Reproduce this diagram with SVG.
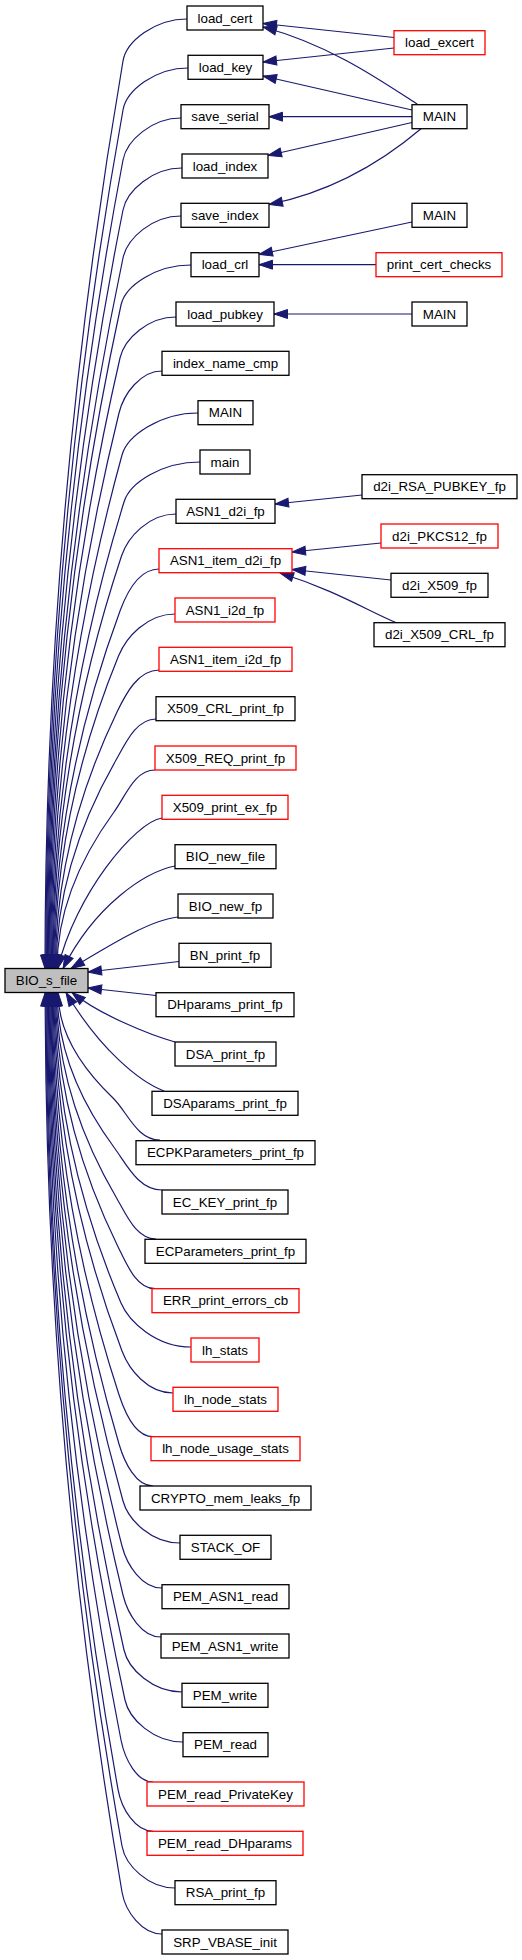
<svg xmlns="http://www.w3.org/2000/svg" width="522" height="1960" viewBox="0 0 522 1960">
<style>
.n rect{fill:#fff;stroke:#000;stroke-width:1.3}
.n.r rect{stroke:#ff0000}
.n.g rect{fill:#bfbfbf}
.n text{font-family:"Liberation Sans",Arial,sans-serif;font-size:13.33px;fill:#000;text-anchor:middle}
#edges path{fill:none;stroke:#191970;stroke-width:1.2;marker-end:url(#ah)}
</style>
<defs>
<marker id="ah" markerUnits="userSpaceOnUse" markerWidth="14" markerHeight="10" refX="13.5" refY="5" orient="auto" overflow="visible"><path d="M0,0.5 L13.5,5 L0,9.5 z" fill="#191970" stroke="#191970" stroke-width="1"/></marker>
</defs>
<rect width="522" height="1960" fill="#fff"/>
<g id="edges">
<path d="M394,37.5 L263,23.5"/>
<path d="M418,104.7 C380,80 330,45 263,27"/>
<path d="M394,48 L263,62"/>
<path d="M412,110 L263,76"/>
<path d="M412,116.7 L269,116.7"/>
<path d="M412,122.5 L268,155.5"/>
<path d="M421,128.7 C390,155 340,190 269,204.5"/>
<path d="M412,222 L259,254.5"/>
<path d="M376,264.7 L259,264.7"/>
<path d="M412,314 L274,314"/>
<path d="M362,495 L275,504"/>
<path d="M381,543 L292,552"/>
<path d="M391,580 L292,569.5"/>
<path d="M397,623 C370,612 335,590 280,573"/>
<path d="M187,19 C155,19 126.4,41.3 123,61 Q45,514.8 45,968.5"/>
<path d="M188,68 C155.5,68 126.5,90.3 123,110 Q45.8,539.3 45.8,968.5"/>
<path d="M181,118 C152,118 126.7,140.3 123,160 Q46.6,564.3 46.6,968.5"/>
<path d="M182,168 C152.5,168 126.9,190.4 123,210 Q47.4,589.3 47.4,968.5"/>
<path d="M181,216 C152,216 127.1,238.4 123,258 Q48.2,613.3 48.2,968.5"/>
<path d="M191,265 C156,265 125.2,285.5 121,305 Q49,636.8 49,968.5"/>
<path d="M176,317 C148,317 124.5,338.5 120,358 Q49.8,663.3 49.8,968.5"/>
<path d="M162,371 C140.5,371 123.8,393.6 119,413 Q50.6,690.8 50.6,968.5"/>
<path d="M198,413 C160,413 127.3,435.7 122,455 Q51.4,711.8 51.4,968.5"/>
<path d="M200,462 C162,462 129.9,482.9 124,502 Q52.2,735.3 52.2,968.5"/>
<path d="M176,514 C148.8,514 127.8,537 121.5,556 Q53,762.3 53,968.5"/>
<path d="M159,569 C139.5,569 126.9,592.2 120,611 Q53.8,789.8 53.8,968.5"/>
<path d="M175,614 C146.8,614 126.1,637.5 118.5,656 Q54.6,812.3 54.6,968.5"/>
<path d="M159,670 C138,670 125.7,694 117,712 Q55.4,840.3 55.4,968.5"/>
<path d="M156,719 C135.8,719 125.4,743.6 115.5,761 Q56.2,864.8 56.2,968.5"/>
<path d="M155,770 C134.5,770 125.8,795.8 114,812 Q57,890.3 57,968.5"/>
<path d="M162,818 C135,822 75,895 57.8,968.5"/>
<path d="M175,866 C145,872 95,905 63,968.5"/>
<path d="M178,917 C150,920 110,945 71,968.5"/>
<path d="M179,961.5 L88,972"/>
<path d="M156,995.5 L88,988"/>
<path d="M175,1042 C150,1035 100,1015 72,992.5"/>
<path d="M164,1091 C140,1082 100,1050 66,992.5"/>
<path d="M160,1140 C136.5,1140 127.4,1111.8 113,1098 Q58,1045.3 58,992.5"/>
<path d="M162,1190 C138.3,1190 126.4,1164.1 114.5,1148 Q57.2,1070.3 57.2,992.5"/>
<path d="M156,1239 C136,1239 126.1,1214.3 116,1197 Q56.4,1094.8 56.4,992.5"/>
<path d="M155,1288.7 C136.5,1288.7 126.8,1264.7 118,1246.7 Q55.6,1119.6 55.6,992.5"/>
<path d="M191,1347 C156,1347 128.8,1321.4 121,1303 Q54.8,1147.8 54.8,992.5"/>
<path d="M173,1393 C147.5,1393 129.1,1369.7 122,1351 Q54,1171.8 54,992.5"/>
<path d="M153,1436.7 C136,1436.7 125.2,1413.7 119,1394.7 Q53.2,1193.6 53.2,992.5"/>
<path d="M153,1486 C136,1486 124.7,1463.2 119,1444 Q52.4,1218.3 52.4,992.5"/>
<path d="M180,1543 C151.5,1543 128.4,1520.3 123,1501 Q51.6,1246.8 51.6,992.5"/>
<path d="M162,1588 C142,1588 127,1565.4 122,1546 Q50.8,1269.3 50.8,992.5"/>
<path d="M161,1637 C142,1637 127.7,1614.4 123,1595 Q50,1293.8 50,992.5"/>
<path d="M182,1692 C153,1692 128.4,1669.5 124,1650 Q49.2,1321.3 49.2,992.5"/>
<path d="M183,1742 C154,1742 129.2,1719.6 125,1700 Q48.4,1346.3 48.4,992.5"/>
<path d="M153,1782 C137,1782 124.9,1759.6 121,1740 Q47.6,1366.3 47.6,992.5"/>
<path d="M153,1831.3 C135.5,1831.3 121.5,1809 118,1789.3 Q46.8,1390.9 46.8,992.5"/>
<path d="M175,1888 C148.5,1888 125.5,1865.7 122,1846 Q46,1419.3 46,992.5"/>
<path d="M162,1934 C142,1934 125.4,1911.7 122,1892 Q45.2,1442.3 45.2,992.5"/>
</g>
<g id="BIO_s_file" class="n g"><rect x="5" y="968.5" width="83" height="24"/><text x="46.5" y="985">BIO_s_file</text></g>
<g id="load_cert" class="n"><rect x="187" y="6" width="76" height="24"/><text x="225" y="22.5">load_cert</text></g>
<g id="load_key" class="n"><rect x="188" y="55.3" width="75" height="24"/><text x="225.5" y="71.8">load_key</text></g>
<g id="save_serial" class="n"><rect x="181" y="104.7" width="88" height="24"/><text x="225" y="121.2">save_serial</text></g>
<g id="load_index" class="n"><rect x="182" y="154" width="86" height="24"/><text x="225" y="170.5">load_index</text></g>
<g id="save_index" class="n"><rect x="181" y="203.3" width="88" height="24"/><text x="225" y="219.8">save_index</text></g>
<g id="load_crl" class="n"><rect x="191" y="252.7" width="68" height="24"/><text x="225" y="269.2">load_crl</text></g>
<g id="load_pubkey" class="n"><rect x="176" y="302" width="98" height="24"/><text x="225" y="318.5">load_pubkey</text></g>
<g id="index_name_cmp" class="n"><rect x="162" y="351.3" width="127" height="24"/><text x="225.5" y="367.8">index_name_cmp</text></g>
<g id="MAIN_1" class="n"><rect x="198" y="400.7" width="55" height="24"/><text x="225.5" y="417.2">MAIN</text></g>
<g id="main" class="n"><rect x="200" y="450" width="50" height="24"/><text x="225" y="466.5">main</text></g>
<g id="ASN1_d2i_fp" class="n"><rect x="176" y="499.3" width="99" height="24"/><text x="225.5" y="515.8">ASN1_d2i_fp</text></g>
<g id="ASN1_item_d2i_fp" class="n r"><rect x="159" y="548.7" width="133" height="24"/><text x="225.5" y="565.2">ASN1_item_d2i_fp</text></g>
<g id="ASN1_i2d_fp" class="n r"><rect x="175" y="598" width="100" height="24"/><text x="225" y="614.5">ASN1_i2d_fp</text></g>
<g id="ASN1_item_i2d_fp" class="n r"><rect x="159" y="647.3" width="133" height="24"/><text x="225.5" y="663.8">ASN1_item_i2d_fp</text></g>
<g id="X509_CRL_print_fp" class="n"><rect x="156" y="696.7" width="139" height="24"/><text x="225.5" y="713.2">X509_CRL_print_fp</text></g>
<g id="X509_REQ_print_fp" class="n r"><rect x="155" y="746" width="141" height="24"/><text x="225.5" y="762.5">X509_REQ_print_fp</text></g>
<g id="X509_print_ex_fp" class="n r"><rect x="162" y="795.3" width="126" height="24"/><text x="225" y="811.8">X509_print_ex_fp</text></g>
<g id="BIO_new_file" class="n"><rect x="175" y="844.7" width="101" height="24"/><text x="225.5" y="861.2">BIO_new_file</text></g>
<g id="BIO_new_fp" class="n"><rect x="178" y="894" width="95" height="24"/><text x="225.5" y="910.5">BIO_new_fp</text></g>
<g id="BN_print_fp" class="n"><rect x="179" y="943.3" width="92" height="24"/><text x="225" y="959.8">BN_print_fp</text></g>
<g id="DHparams_print_fp" class="n"><rect x="156" y="992.7" width="138" height="24"/><text x="225" y="1009.2">DHparams_print_fp</text></g>
<g id="DSA_print_fp" class="n"><rect x="175" y="1042" width="101" height="24"/><text x="225.5" y="1058.5">DSA_print_fp</text></g>
<g id="DSAparams_print_fp" class="n"><rect x="152" y="1091.3" width="146" height="24"/><text x="225" y="1107.8">DSAparams_print_fp</text></g>
<g id="ECPKParameters_print_fp" class="n"><rect x="136" y="1140.7" width="179" height="24"/><text x="225.5" y="1157.2">ECPKParameters_print_fp</text></g>
<g id="EC_KEY_print_fp" class="n"><rect x="162" y="1190" width="126" height="24"/><text x="225" y="1206.5">EC_KEY_print_fp</text></g>
<g id="ECParameters_print_fp" class="n"><rect x="145" y="1239.3" width="161" height="24"/><text x="225.5" y="1255.8">ECParameters_print_fp</text></g>
<g id="ERR_print_errors_cb" class="n r"><rect x="152" y="1288.7" width="147" height="24"/><text x="225.5" y="1305.2">ERR_print_errors_cb</text></g>
<g id="lh_stats" class="n r"><rect x="191" y="1338" width="68" height="24"/><text x="225" y="1354.5">lh_stats</text></g>
<g id="lh_node_stats" class="n r"><rect x="173" y="1387.3" width="105" height="24"/><text x="225.5" y="1403.8">lh_node_stats</text></g>
<g id="lh_node_usage_stats" class="n r"><rect x="151" y="1436.7" width="149" height="24"/><text x="225.5" y="1453.2">lh_node_usage_stats</text></g>
<g id="CRYPTO_mem_leaks_fp" class="n"><rect x="140" y="1486" width="171" height="24"/><text x="225.5" y="1502.5">CRYPTO_mem_leaks_fp</text></g>
<g id="STACK_OF" class="n"><rect x="180" y="1535.3" width="91" height="24"/><text x="225.5" y="1551.8">STACK_OF</text></g>
<g id="PEM_ASN1_read" class="n"><rect x="162" y="1584.7" width="127" height="24"/><text x="225.5" y="1601.2">PEM_ASN1_read</text></g>
<g id="PEM_ASN1_write" class="n"><rect x="161" y="1634" width="128" height="24"/><text x="225" y="1650.5">PEM_ASN1_write</text></g>
<g id="PEM_write" class="n"><rect x="182" y="1683.3" width="86" height="24"/><text x="225" y="1699.8">PEM_write</text></g>
<g id="PEM_read" class="n"><rect x="183" y="1732.7" width="85" height="24"/><text x="225.5" y="1749.2">PEM_read</text></g>
<g id="PEM_read_PrivateKey" class="n r"><rect x="147" y="1782" width="157" height="24"/><text x="225.5" y="1798.5">PEM_read_PrivateKey</text></g>
<g id="PEM_read_DHparams" class="n r"><rect x="147" y="1831.3" width="156" height="24"/><text x="225" y="1847.8">PEM_read_DHparams</text></g>
<g id="RSA_print_fp" class="n"><rect x="175" y="1880.7" width="101" height="24"/><text x="225.5" y="1897.2">RSA_print_fp</text></g>
<g id="SRP_VBASE_init" class="n"><rect x="162" y="1930" width="126" height="24"/><text x="225" y="1946.5">SRP_VBASE_init</text></g>
<g id="load_excert" class="n r"><rect x="394" y="30.7" width="91" height="24"/><text x="439.5" y="47.2">load_excert</text></g>
<g id="MAIN_a" class="n"><rect x="412" y="104.7" width="55" height="24"/><text x="439.5" y="121.2">MAIN</text></g>
<g id="MAIN_b" class="n"><rect x="412" y="203.3" width="55" height="24"/><text x="439.5" y="219.8">MAIN</text></g>
<g id="print_cert_checks" class="n r"><rect x="376" y="252.7" width="126" height="24"/><text x="439" y="269.2">print_cert_checks</text></g>
<g id="MAIN_c" class="n"><rect x="412" y="302" width="55" height="24"/><text x="439.5" y="318.5">MAIN</text></g>
<g id="d2i_RSA_PUBKEY_fp" class="n"><rect x="362" y="474.7" width="155" height="24"/><text x="439.5" y="491.2">d2i_RSA_PUBKEY_fp</text></g>
<g id="d2i_PKCS12_fp" class="n r"><rect x="381" y="524" width="117" height="24"/><text x="439.5" y="540.5">d2i_PKCS12_fp</text></g>
<g id="d2i_X509_fp" class="n"><rect x="391" y="573.3" width="97" height="24"/><text x="439.5" y="589.8">d2i_X509_fp</text></g>
<g id="d2i_X509_CRL_fp" class="n"><rect x="374" y="622.7" width="131" height="24"/><text x="439.5" y="639.2">d2i_X509_CRL_fp</text></g>
</svg>
